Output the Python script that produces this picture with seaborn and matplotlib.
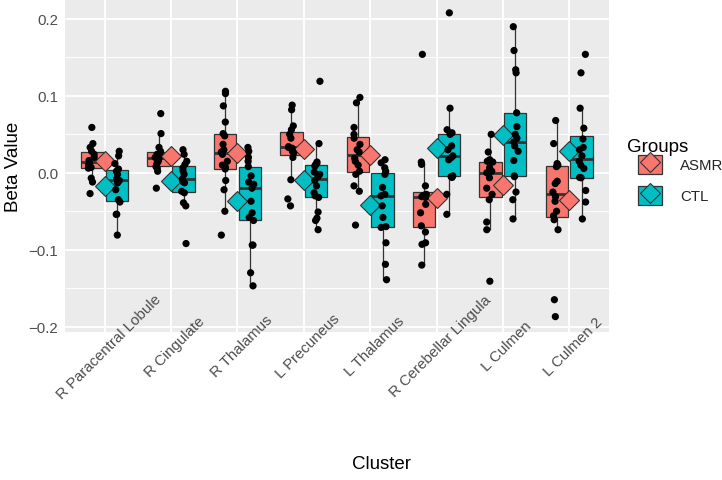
import numpy as np
import pandas as pd
import matplotlib
matplotlib.use("Agg")
import matplotlib.pyplot as plt
import matplotlib.transforms as mtransforms
from matplotlib.patches import Rectangle
from matplotlib.lines import Line2D
from matplotlib.legend_handler import HandlerTuple
import seaborn as sns

# ---------------- data ----------------
clusters = ["R Paracentral Lobule", "R Cingulate", "R Thalamus", "L Precuneus",
            "L Thalamus", "R Cerebellar Lingula", "L Culmen", "L Culmen 2"]
groups = ["ASMR", "CTL"]
group_colors = ["#F8766D", "#00BFC4"]

asmr_r_paracentral = [0.059, 0.038, 0.033, 0.028, 0.024, 0.020, 0.016, 0.013, 0.010, 0.007, 0.006, -0.007, -0.012, -0.027]
ctl_r_paracentral = [0.028, 0.022, 0.012, 0.005, 0.002, -0.002, -0.008, -0.010, -0.013, -0.022, -0.035, -0.038, -0.054, -0.054, -0.081]
asmr_r_cingulate = [0.077, 0.051, 0.033, 0.028, 0.026, 0.024, 0.020, 0.018, 0.015, 0.012, 0.008, 0.006, 0.002, -0.020]
ctl_r_cingulate = [0.030, 0.024, 0.015, 0.011, 0.0065, 0.003, -0.002, -0.008, -0.011, -0.013, -0.024, -0.026, -0.039, -0.043, -0.092]
asmr_r_thalamus = [0.106, 0.103, 0.087, 0.066, 0.051, 0.048, 0.037, 0.030, 0.027, 0.024, 0.015, 0.010, 0.007, 0.005, -0.010, -0.022, -0.050, -0.081]
ctl_r_thalamus = [0.033, 0.028, 0.020, 0.015, 0.008, -0.004, -0.012, -0.015, -0.020, -0.037, -0.052, -0.058, -0.062, -0.094, -0.094, -0.130, -0.147]
asmr_l_precuneus = [0.088, 0.082, 0.061, 0.056, 0.050, 0.045, 0.033, 0.034, 0.032, 0.028, 0.026, 0.020, -0.009, -0.034, -0.043]
ctl_l_precuneus = [0.119, 0.038, 0.014, 0.012, 0.010, 0.0087, 0.001, -0.002, -0.005, -0.010, -0.017, -0.026, -0.030, -0.032, -0.051, -0.059, -0.062, -0.074]
asmr_l_thalamus = [0.098, 0.091, 0.059, 0.050, 0.045, 0.037, 0.030, 0.027, 0.019, 0.015, 0.010, 0.002, -0.002, -0.017, -0.024, -0.068]
ctl_l_thalamus = [0.017, 0.013, 0.0065, 0.002, -0.002, -0.019, -0.028, -0.030, -0.043, -0.058, -0.070, -0.071, -0.091, -0.119, -0.139]
asmr_r_cerebellar = [0.154, 0.014, 0.011, -0.017, -0.028, -0.029, -0.030, -0.031, -0.032, -0.041, -0.052, -0.069, -0.077, -0.091, -0.093, -0.120]
ctl_r_cerebellar = [0.208, 0.084, 0.056, 0.052, 0.050, 0.035, 0.030, 0.022, 0.020, 0.017, -0.004, -0.005, -0.006, -0.028, -0.054]
asmr_l_culmen = [0.050, 0.027, 0.017, 0.015, 0.014, 0.0065, 0.002, 0.0, -0.0065, -0.020, -0.028, -0.035, -0.064, -0.074, -0.141]
ctl_l_culmen = [0.190, 0.159, 0.134, 0.130, 0.078, 0.060, 0.050, 0.045, 0.040, 0.035, 0.028, 0.016, -0.004, -0.005, -0.025, -0.035, -0.060]
asmr_l_culmen2 = [0.068, 0.038, 0.012, 0.010, 0.008, -0.011, -0.014, -0.025, -0.031, -0.037, -0.050, -0.056, -0.061, -0.074, -0.165, -0.187]
ctl_l_culmen2 = [0.154, 0.130, 0.084, 0.058, 0.044, 0.033, 0.030, 0.022, 0.015, 0.010, 0.0056, -0.006, -0.0065, -0.023, -0.038, -0.060]

y_ticks = [-0.2, -0.1, 0.0, 0.1, 0.2]
y_tick_labels = ["\u22120.2", "\u22120.1", "0.0", "0.1", "0.2"]

asmr_values = [asmr_r_paracentral, asmr_r_cingulate, asmr_r_thalamus, asmr_l_precuneus,
               asmr_l_thalamus, asmr_r_cerebellar, asmr_l_culmen, asmr_l_culmen2]
ctl_values = [ctl_r_paracentral, ctl_r_cingulate, ctl_r_thalamus, ctl_l_precuneus,
              ctl_l_thalamus, ctl_r_cerebellar, ctl_l_culmen, ctl_l_culmen2]

rows = []
for cl, a, c in zip(clusters, asmr_values, ctl_values):
    rows += [(cl, "ASMR", v) for v in a]
    rows += [(cl, "CTL", v) for v in c]
df = pd.DataFrame(rows, columns=["Cluster", "Groups", "Beta"])

# ---------------- style (ggplot grey look) ----------------
sns.set_theme(style="darkgrid")
plt.rcParams["font.family"] = ["Liberation Sans", "DejaVu Sans"]
plt.rcParams["axes.facecolor"] = "#EBEBEB"

palette = dict(zip(groups, group_colors))
edge = "#333333"

fig = plt.figure(figsize=(7.22, 4.81), dpi=100)
ax = fig.add_axes([0.090, 0.3077, 0.7535, 0.6923])

sns.boxplot(data=df, x="Cluster", y="Beta", hue="Groups", order=clusters,
            hue_order=groups, palette=palette, saturation=1, width=0.75, gap=0.1,
            showfliers=False, showcaps=False, linecolor=edge, linewidth=0.9,
            medianprops=dict(color=edge, linewidth=2.0), legend=False, ax=ax)

sns.pointplot(data=df, x="Cluster", y="Beta", hue="Groups", order=clusters,
              hue_order=groups, palette=palette, estimator="mean", errorbar=None,
              dodge=False, linestyle="none", marker="D", markersize=9.7,
              markeredgecolor=edge, markeredgewidth=0.8, legend=False, ax=ax)

np.random.seed(3)
sns.stripplot(data=df, x="Cluster", y="Beta", hue="Groups", order=clusters,
              hue_order=groups, palette={g: "black" for g in groups}, dodge=True,
              jitter=0.1, size=5.2, linewidth=0, legend=False, ax=ax)

# layering: boxes < diamonds < points
for ln in ax.lines:
    if ln.get_marker() == "D":
        ln.set_zorder(3)
for coll in ax.collections:
    coll.set_zorder(4)

ax.set_xlim(-0.6, len(clusters) - 0.4)
ax.set_ylim(-0.207, 0.226)
ax.set_yticks(y_ticks)
ax.set_yticklabels(y_tick_labels)
ax.set_yticks([-0.15, -0.05, 0.05, 0.15], minor=True)
ax.grid(which="major", color="white", linewidth=1.3)
ax.grid(which="minor", axis="y", color="white", linewidth=0.65)
ax.grid(which="minor", axis="x", visible=False)
for s in ax.spines.values():
    s.set_visible(False)
# x tick labels sit over the panel, draw them above the y grid lines
ax.xaxis.set_zorder(0.6)

ax.tick_params(axis="both", which="major", length=3, width=1.0, color=edge,
               labelcolor="#4D4D4D", labelsize=10.8)
ax.tick_params(axis="y", which="minor", length=0)
ax.tick_params(axis="x", pad=7)
ax.tick_params(axis="y", pad=2)

shift = mtransforms.ScaledTranslation(0.04, 0, fig.dpi_scale_trans)
for lab in ax.get_xticklabels():
    lab.set_rotation(45)
    lab.set_ha("center")
    lab.set_va("center")
    lab.set_rotation_mode("anchor")
    lab.set_transform(lab.get_transform() + shift)

ax.set_xlabel("Cluster", fontsize=13.5, color="black", va="center")
ax.set_ylabel("Beta Value", fontsize=13.5, color="black", va="center")
ax.xaxis.set_label_coords(0.581, -0.396)
ax.yaxis.set_label_coords(-0.095, 0.5)

# legend: title as its own text, keys = box + mean diamond
fig.text(627 / 722, 1 - 148 / 481, "Groups", fontsize=13.5, color="black",
         ha="left", va="center")
handles = []
for g, col in zip(groups, group_colors):
    box = Rectangle((0, 0), 1, 1, facecolor=col, edgecolor=edge, linewidth=0.9)
    dia = Line2D([], [], linestyle="none", marker="D", markersize=10.5,
                 markerfacecolor=col, markeredgecolor=edge, markeredgewidth=0.8)
    handles.append((box, dia))
leg = fig.legend(handles, groups, loc="center left",
                 bbox_to_anchor=(638 / 722, 1 - 181 / 481), borderaxespad=0,
                 borderpad=0, frameon=False, fontsize=10.8,
                 handlelength=1.6, handleheight=1.5,
                 handletextpad=1.2, labelspacing=0.85,
                 handler_map={tuple: HandlerTuple(ndivide=1)})

fig.savefig("out.png", dpi=100)
